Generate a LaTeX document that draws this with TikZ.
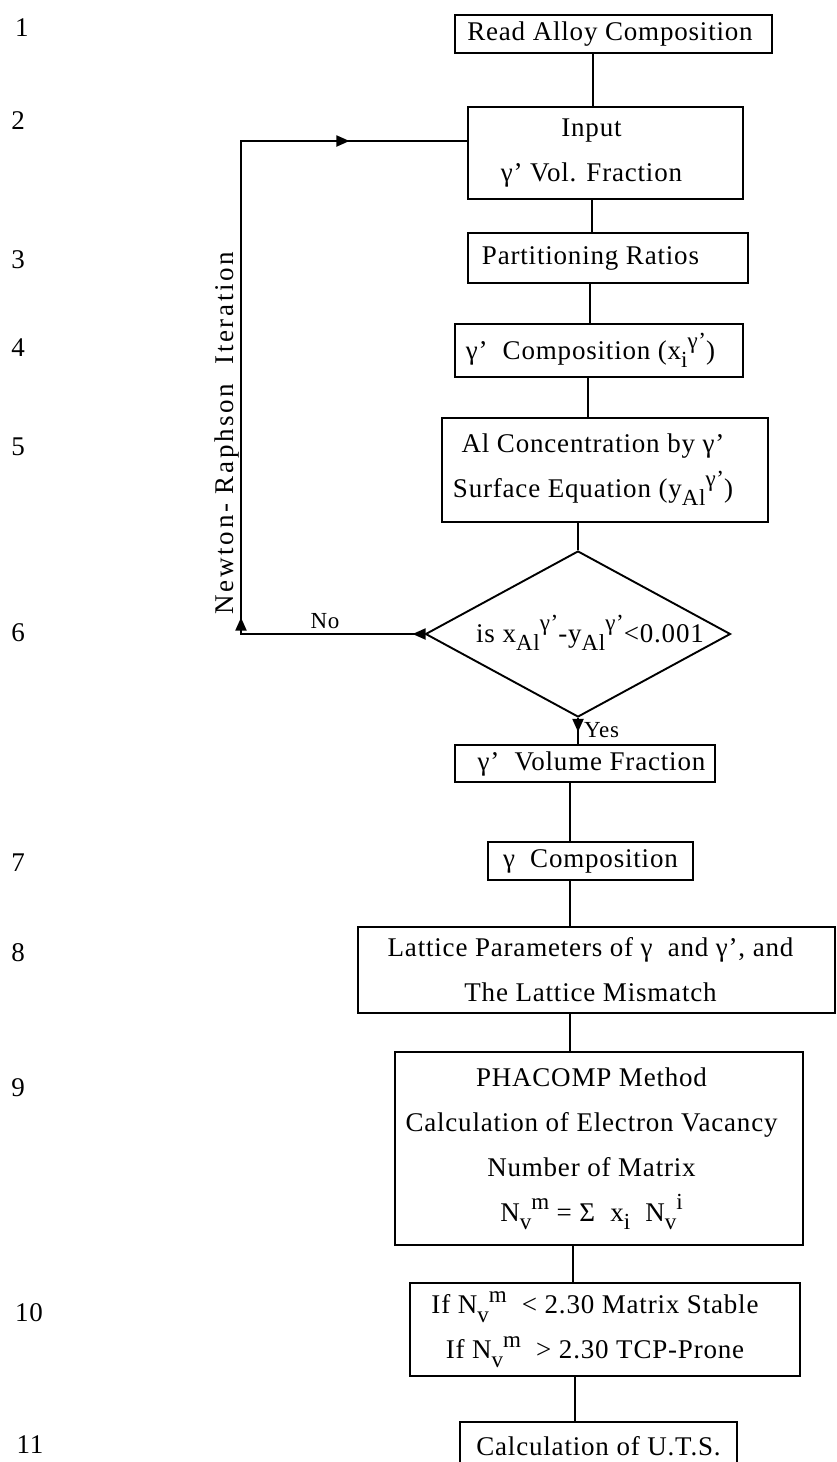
\documentclass[tikz,border=0pt]{standalone}
\usepackage{fontspec}
\setmainfont{Liberation Serif}[LetterSpace=3.0]
\newfontfamily\widefont{Liberation Serif}[LetterSpace=10.0]
\usetikzlibrary{arrows.meta,decorations.markings,shapes.geometric}
\newcommand\scrf{\fontsize{23}{23}\selectfont}
\newcommand\myup[1]{\raisebox{0.42em}{\scrf #1}}
\newcommand\mydn[1]{\raisebox{-0.3em}{\scrf #1}}
\newcommand\padr[1]{\rule{#1}{0pt}}
\begin{document}
\begin{tikzpicture}[x=1pt,y=-1pt,
  every node/.style={font=\fontsize{27}{45}\selectfont, inner sep=0pt},
  box/.style={draw, line width=1.9pt, rectangle, align=center},
  link/.style={line width=1.9pt},
  smalltext/.style={font=\fontsize{23}{23}\selectfont}]
\useasboundingbox (0,0) rectangle (837,1462);
\clip (0,0) rectangle (837,1462);

% row numbers
\node (n1) at (22,28) {1};
\node (n2) at (18,121) {2};
\node (n3) at (18,260) {3};
\node (n4) at (18,348) {4};
\node (n5) at (18,447) {5};
\node (n6) at (18,633) {6};
\node (n7) at (18,863) {7};
\node (n8) at (18,953) {8};
\node (n9) at (18,1088) {9};
\node (n10) at (29,1313) {10};
\node (n11) at (30,1445) {11};

% boxes
\node[box, minimum width=317pt, minimum height=38pt] (b1) at (613.5,34) {Read Alloy Composition\padr{7pt}};
\node[box, minimum width=275pt, minimum height=92pt] (b2) at (605.5,153) {Input\padr{28pt}\\γ’ Vol. Fraction\padr{28pt}};
\node[box, minimum width=280pt, minimum height=50pt] (b3) at (608,258) {Partitioning Ratios\padr{35pt}};
\node[box, minimum width=288pt, minimum height=53pt] (b4) at (599,350.5) {γ’~ Composition (x\mydn{i}\myup{γ’})\padr{17pt}};
\node[box, minimum width=326pt, minimum height=104pt] (b5) at (605,470) {Al Concentration by γ’\padr{24pt}\\Surface Equation (y\mydn{Al}\myup{γ’})\padr{24pt}};
\node[draw, diamond, line width=1.9pt, minimum width=305pt, minimum height=166pt, inner sep=0pt] (dia) at (578,634) {};
\node (dtxt) at (590,633) {is x\mydn{Al}\myup{γ’}-y\mydn{Al}\myup{γ’}<0.001};
\node[box, minimum width=260pt, minimum height=37pt] (b6) at (585,763.5) {\padr{13pt}γ’~ Volume Fraction};
\node[box, minimum width=205pt, minimum height=38pt] (b7) at (590.5,861) {γ~ Composition};
\node[box, minimum width=477pt, minimum height=86pt] (b8) at (596.5,970) {Lattice Parameters of γ~ and γ’, and\padr{12pt}\\The Lattice Mismatch\padr{12pt}};
\node[box, minimum width=408pt, minimum height=193pt] (b9) at (599,1148.5) {PHACOMP Method\padr{15pt}\\Calculation of Electron Vacancy\padr{15pt}\\Number of Matrix\padr{15pt}\\N\mydn{v}\myup{m} = Σ~ x\mydn{i}~ N\mydn{v}\myup{i}\padr{15pt}};
\node[box, minimum width=390pt, minimum height=93pt] (b10) at (605,1329.5) {If N\mydn{v}\myup{m}~ < 2.30 Matrix Stable\padr{20pt}\\If N\mydn{v}\myup{m}~ > 2.30 TCP-Prone\padr{20pt}};
\node[box, minimum width=277pt, minimum height=48pt] (b11) at (598.5,1446) {Calculation of U.T.S.};

% connectors
\draw[link] ([xshift=-20.5pt]b1.south) -- ([xshift=-12.5pt]b2.north);
\draw[link] ([xshift=-13.5pt]b2.south) -- ([xshift=-16pt]b3.north);
\draw[link] ([xshift=-18pt]b3.south) -- ([xshift=-9pt]b4.north);
\draw[link] ([xshift=-11pt]b4.south) -- ([xshift=-17pt]b5.north);
\draw[link] ([xshift=-27pt]b5.south) -- (dia.north);
\draw[link, postaction={decorate}, decoration={markings,
   mark=at position 14pt with {\arrow{Triangle[length=13pt,width=11pt]}}}]
   (dia.south) -- (dia.south |- b6.north);
\draw[link] ([xshift=-15pt]b6.south) -- ([xshift=-20.5pt]b7.north);
\draw[link] ([xshift=-20.5pt]b7.south) -- ([xshift=-26.5pt]b8.north);
\draw[link] ([xshift=-26.5pt]b8.south) -- ([xshift=-29pt]b9.north);
\draw[link] ([xshift=-26pt]b9.south) -- ([xshift=-32pt]b10.north);
\draw[line width=2.6pt] ([xshift=-30pt]b10.south) -- ([xshift=-23.5pt]b11.north);

% feedback loop
\coordinate (lpB) at (241,634);
\coordinate (lpT) at (241,141);
\draw[link, postaction={decorate}, decoration={markings,
   mark=at position 12pt with {\arrow{Triangle[length=13pt,width=11pt]}},
   mark=at position 200pt with {\arrow{Triangle[length=13pt,width=11pt]}},
   mark=at position 785pt with {\arrow{Triangle[length=13pt,width=11pt]}}}]
   (dia.west) -- (lpB) -- (lpT) -- (lpT -| b2.west);

% labels
\node[smalltext] (no) at (325,621) {No};
\node[smalltext, anchor=west] (yes) at (584,730) {Yes};
\node[rotate=90, anchor=south, font=\widefont\fontsize{27}{27}\selectfont] (nr) at (239,433) {Newton- Raphson\ \ Iteration};
\end{tikzpicture}
\end{document}
